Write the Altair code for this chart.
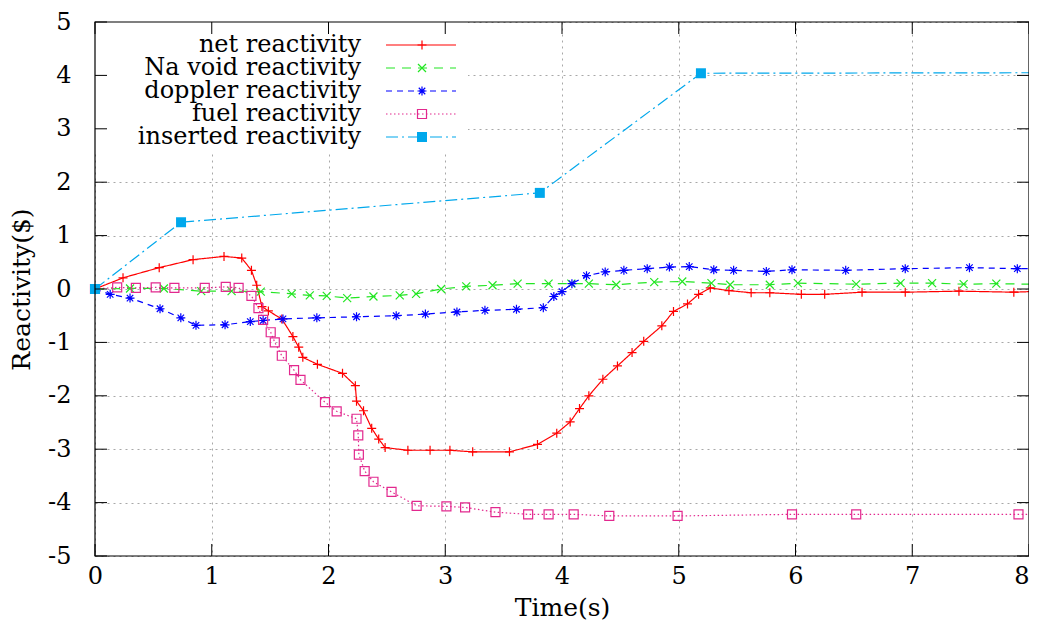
import altair as alt
import pandas as pd

names = ["net reactivity", "Na void reactivity", "doppler reactivity",
         "fuel reactivity", "inserted reactivity"]

net_x = [0, 0.24, 0.55, 0.84, 1.105, 1.257, 1.34, 1.385, 1.43, 1.485, 1.6, 1.695, 1.745,
         1.78, 1.905, 2.12, 2.23, 2.24, 2.30, 2.37, 2.43, 2.485, 2.68, 2.87, 3.04, 3.235,
         3.55, 3.79, 3.955, 4.07, 4.15, 4.23, 4.35, 4.475, 4.60, 4.70, 4.855, 4.955, 5.075,
         5.17, 5.27, 5.43, 5.62, 5.78, 6.05, 6.25, 6.57, 6.94, 7.40, 7.87, 8.0]
net_y = [0, 0.21, 0.40, 0.55, 0.61, 0.58, 0.35, 0.07, -0.33, -0.41, -0.56, -0.89, -1.09,
         -1.28, -1.41, -1.58, -1.81, -2.10, -2.28, -2.61, -2.81, -2.97, -3.02, -3.02, -3.02,
         -3.05, -3.05, -2.91, -2.70, -2.49, -2.24, -2.0, -1.69, -1.44, -1.19, -0.98, -0.69,
         -0.42, -0.28, -0.10, 0.02, -0.03, -0.07, -0.07, -0.10, -0.10, -0.06, -0.06, -0.04,
         -0.06, -0.05]

na_x = [0, 0.3, 0.59, 0.91, 1.17, 1.42, 1.685, 1.84, 1.985, 2.16, 2.385, 2.61, 2.75, 2.965,
        3.18, 3.405, 3.62, 3.885, 4.08, 4.23, 4.465, 4.79, 5.03, 5.28, 5.44, 5.78, 6.02,
        6.52, 6.90, 7.17, 7.44, 7.72, 8.0]
na_y = [0, 0.01, 0.01, -0.04, -0.04, -0.05, -0.09, -0.12, -0.13, -0.17, -0.14, -0.12, -0.09,
        0.0, 0.05, 0.07, 0.10, 0.10, 0.10, 0.10, 0.08, 0.13, 0.14, 0.11, 0.08, 0.08, 0.11,
        0.09, 0.11, 0.11, 0.09, 0.10, 0.09]

dop_x = [0, 0.13, 0.30, 0.557, 0.735, 0.865, 1.114, 1.33, 1.44, 1.61, 1.90, 2.24, 2.58,
         2.83, 3.10, 3.34, 3.61, 3.84, 3.93, 4.0, 4.085, 4.21, 4.37, 4.53, 4.73, 4.92, 5.09,
         5.30, 5.47, 5.75, 5.97, 6.43, 6.94, 7.49, 7.90, 8.0]
dop_y = [0, -0.10, -0.17, -0.37, -0.54, -0.68, -0.67, -0.61, -0.59, -0.56, -0.54, -0.52,
         -0.50, -0.47, -0.43, -0.40, -0.38, -0.35, -0.14, -0.05, 0.10, 0.25, 0.32, 0.35,
         0.38, 0.41, 0.42, 0.36, 0.35, 0.33, 0.36, 0.35, 0.38, 0.40, 0.38, 0.38]

fuel_x = [0, 0.19, 0.35, 0.52, 0.68, 0.94, 1.12, 1.23, 1.34, 1.40, 1.44, 1.505, 1.54, 1.60,
          1.705, 1.76, 1.97, 2.07, 2.24, 2.255, 2.26, 2.31, 2.385, 2.54, 2.755, 3.01, 3.17,
          3.43, 3.71, 3.885, 4.10, 4.405, 4.99, 5.97, 6.52, 7.91, 8.0]
fuel_y = [0, 0.03, 0.02, 0.03, 0.02, 0.02, 0.04, 0.02, -0.13, -0.36, -0.58, -0.81, -1.0,
          -1.25, -1.52, -1.70, -2.12, -2.29, -2.43, -2.74, -3.10, -3.41, -3.61, -3.80, -4.06,
          -4.07, -4.09, -4.18, -4.22, -4.22, -4.22, -4.25, -4.25, -4.22, -4.22, -4.22, -4.22]

ins_x = [0, 0.737, 3.81, 5.19, 8.0]
ins_y = [0, 1.25, 1.80, 4.04, 4.05]

x_ticks = [0, 1, 2, 3, 4, 5, 6, 7, 8]
y_ticks = [-5, -4, -3, -2, -1, 0, 1, 2, 3, 4, 5]

series_x = [net_x, na_x, dop_x, fuel_x, ins_x]
series_y = [net_y, na_y, dop_y, fuel_y, ins_y]

colors = ["#ff0000", "#22e622", "#0000ff", "#e2288e", "#00a8ec"]
dashes = [[1, 0], [9, 7], [6, 5], [1.5, 2.5], [12, 4, 2, 4]]
shapes = [
    "M-1,0L1,0M0,-1L0,1",
    "M-1,-1L1,1M-1,1L1,-1",
    "M-1,0L1,0M0,-1L0,1M-0.72,-0.72L0.72,0.72M-0.72,0.72L0.72,-0.72",
    "M-1,-1L1,-1L1,1L-1,1Z",
    "M-1,-1L1,-1L1,1L-1,1Z",
]
sizes = [81, 64, 81, 81, 100]
filled = [False, False, False, False, True]

FONT = "DejaVu Serif"
FS = 24
KEY_FS = 24
W, H = 934, 534
TICK = 12

xs = alt.Scale(domain=[0, 8], nice=False, zero=False)
ys = alt.Scale(domain=[-5, 5], nice=False, zero=False)

common = dict(grid=True, ticks=False, domain=False, labelExpr="'' + datum.value",
              gridDash=[2, 4], gridColor="#a8a8a8", labelFlush=False,
              labelFont=FONT, titleFont=FONT, labelFontSize=FS, titleFontSize=25,
              labelColor="black", titleColor="black", titleFontWeight="normal")
x_axis = alt.Axis(values=x_ticks, title="Time(s)", labelPadding=8, titlePadding=7,
                  labelAlign={"condition": {"test": "datum.value == 8", "value": "right"},
                              "value": "center"},
                  **common)
y_axis = alt.Axis(values=y_ticks, title="Reactivity($)", labelPadding=24, titlePadding=13,
                  **common)

# axis-carrying base layer (draws the grid, labels and titles)
axis_df = pd.DataFrame({"x": [0, 8], "y": [-5, 5]})
base = alt.Chart(axis_df).mark_point(opacity=0).encode(
    x=alt.X("x:Q", scale=xs, axis=x_axis),
    y=alt.Y("y:Q", scale=ys, axis=y_axis),
)
layers = [base]

# opaque key box
layers.append(
    alt.Chart(pd.DataFrame({"k": [0]})).mark_rect(fill="white").encode(
        x=alt.value(0), x2=alt.value(373), y=alt.value(0), y2=alt.value(131))
)

for i in range(5):
    df = pd.DataFrame({"x": series_x[i], "y": series_y[i]})
    line = alt.Chart(df).mark_line(color=colors[i], strokeWidth=1.2,
                                   strokeDash=dashes[i]).encode(
        x=alt.X("x:Q", scale=xs, axis=x_axis),
        y=alt.Y("y:Q", scale=ys, axis=y_axis),
        order="x:Q",
    )
    if filled[i]:
        pm = alt.Chart(df).mark_point(shape=shapes[i], size=sizes[i], filled=True,
                                      color=colors[i], opacity=1)
    else:
        pm = alt.Chart(df).mark_point(shape=shapes[i], size=sizes[i], filled=False,
                                      color=colors[i], strokeWidth=1.2, opacity=1)
    pts = pm.transform_filter("datum.x < 7.99").encode(
        x=alt.X("x:Q", scale=xs, axis=x_axis),
        y=alt.Y("y:Q", scale=ys, axis=y_axis),
    )
    layers += [line, pts]

# inward ticks on all four sides
xt = pd.DataFrame({"x": x_ticks})
yt = pd.DataFrame({"y": y_ticks})
layers.append(alt.Chart(xt).mark_rule(color="black").encode(
    x=alt.X("x:Q", scale=xs, axis=x_axis), y=alt.value(H), y2=alt.value(H - TICK)))
layers.append(alt.Chart(xt).mark_rule(color="black").encode(
    x=alt.X("x:Q", scale=xs, axis=x_axis), y=alt.value(0), y2=alt.value(TICK)))
layers.append(alt.Chart(yt).mark_rule(color="black").encode(
    y=alt.Y("y:Q", scale=ys, axis=y_axis), x=alt.value(0), x2=alt.value(TICK)))
layers.append(alt.Chart(yt).mark_rule(color="black").encode(
    y=alt.Y("y:Q", scale=ys, axis=y_axis), x=alt.value(W), x2=alt.value(W - TICK)))

# plot border
layers.append(
    alt.Chart(pd.DataFrame({"k": [0]})).mark_rect(filled=False, stroke="black",
                                                  strokeWidth=1.2).encode(
        x=alt.value(0), x2=alt.value(W), y=alt.value(0), y2=alt.value(H))
)

# key (gnuplot style: right-aligned text, then sample)
one = pd.DataFrame({"k": [0]})
for i in range(5):
    ky = 23 + 23 * i
    layers.append(alt.Chart(one).mark_text(text=names[i], align="right", baseline="middle",
                                           font=FONT, fontSize=KEY_FS, color="black").encode(
        x=alt.value(266), y=alt.value(ky)))
    layers.append(alt.Chart(one).mark_rule(color=colors[i], strokeWidth=1.2,
                                           strokeDash=dashes[i]).encode(
        x=alt.value(291), x2=alt.value(361), y=alt.value(ky)))
    if filled[i]:
        km = alt.Chart(one).mark_point(shape=shapes[i], size=sizes[i], filled=True,
                                       color=colors[i], opacity=1)
    else:
        km = alt.Chart(one).mark_point(shape=shapes[i], size=sizes[i], filled=False,
                                       color=colors[i], strokeWidth=1.2, opacity=1)
    layers.append(km.encode(x=alt.value(327), y=alt.value(ky)))

chart = alt.layer(*layers).properties(
    width=W, height=H,
    padding={"left": 87, "top": 14, "right": 0, "bottom": 64},
    autosize=alt.AutoSizeParams(type="none"),
).configure_view(
    stroke="transparent"
)

chart.save("out.html", embed_options={"renderer": "svg", "actions": False})
